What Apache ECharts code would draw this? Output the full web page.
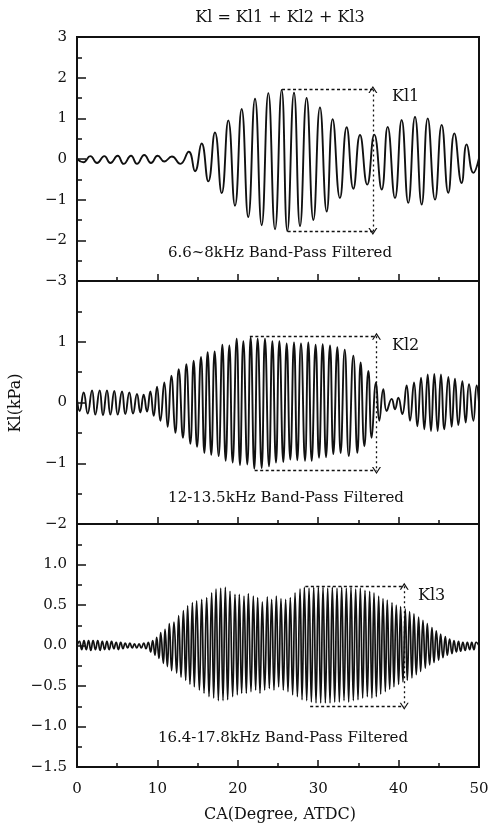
<!DOCTYPE html>
<html>
<head>
<meta charset="utf-8">
<script src="https://cdn.jsdelivr.net/npm/echarts@6/dist/echarts.min.js"></script>
<style>
html,body{margin:0;padding:0;background:#fff;}
#chart{width:489px;height:829px;}
</style>
</head>
<body>
<div id="chart"></div>
<script>
// ---------- data (x: CA degree ATDC, y: kPa) ----------
const xTicks = [0, 10, 20, 30, 40, 50];

// Kl1 : 6.6~8 kHz band (peaks / troughs)
const kl1Deg = [0, 0.8, 1.66, 2.49, 3.4, 4.15, 5.06, 5.8, 6.72, 7.46,
  8.37, 9.2, 10.03, 10.86, 11.8, 12.85, 13.9, 14.68, 15.5, 16.33,
  17.16, 18.0, 18.82, 19.65, 20.48, 21.3, 22.14, 22.97, 23.8, 24.63,
  25.46, 26.16, 26.99, 27.74, 28.56, 29.4, 30.22, 31.06, 31.8, 32.7,
  33.54, 34.37, 35.2, 36.1, 36.98, 37.9, 38.64, 39.55, 40.38, 41.2,
  42.04, 42.87, 43.62, 44.53, 45.36, 46.18, 46.93, 47.84, 48.47, 49.3, 50];
const kl1Val = [0, -0.08, 0.07, -0.1, 0.07, -0.1, 0.08, -0.12, 0.08, -0.12,
  0.1, -0.1, 0.08, -0.06, 0.06, -0.12, 0.18, -0.3, 0.38, -0.55,
  0.65, -0.84, 0.95, -1.15, 1.23, -1.43, 1.48, -1.63, 1.62, -1.73,
  1.7, -1.77, 1.63, -1.65, 1.5, -1.5, 1.27, -1.29, 0.98, -0.96,
  0.78, -0.73, 0.59, -0.63, 0.6, -0.75, 0.79, -0.96, 0.96, -1.08,
  1.04, -1.12, 1.0, -1.0, 0.84, -0.83, 0.63, -0.59, 0.36, -0.34, 0.02];

// Kl2 : 12-13.5 kHz band
const kl2Deg = [0, 0.33, 0.83, 1.33, 1.87, 2.28, 2.82, 3.23, 3.73, 4.15,
  4.64, 5.06, 5.6, 6.01, 6.51, 6.97, 7.46, 7.88, 8.29, 8.71,
  9.12, 9.54, 9.95, 10.37, 10.86, 11.28, 11.73, 12.23, 12.65, 13.18,
  13.6, 14.1, 14.51, 14.93, 15.42, 15.84, 16.25, 16.7, 17.12, 17.62,
  18.08, 18.49, 18.95, 19.36, 19.86, 20.27, 20.69, 21.18, 21.6, 22.05,
  22.47, 22.97, 23.38, 23.88, 24.3, 24.75, 25.17, 25.66, 26.08, 26.53,
  26.99, 27.4, 27.86, 28.36, 28.77, 29.19, 29.68, 30.1, 30.56, 30.97,
  31.47, 31.88, 32.38, 32.79, 33.3, 33.8, 34.37, 34.87, 35.28, 35.74,
  36.24, 36.65, 37.19, 37.6, 38.1, 38.51, 39.14, 39.55, 39.97, 40.46,
  41.0, 41.42, 41.92, 42.33, 42.79, 43.2, 43.62, 44.03, 44.44, 44.86,
  45.27, 45.69, 46.19, 46.6, 47.01, 47.43, 47.93, 48.34, 48.76, 49.3,
  49.71, 50];
const kl2Val = [0.05, -0.14, 0.165, -0.18, 0.2, -0.2, 0.2, -0.21, 0.2, -0.2,
  0.19, -0.2, 0.18, -0.19, 0.165, -0.18, 0.14, -0.165, 0.13, -0.15,
  0.18, -0.22, 0.26, -0.3, 0.33, -0.4, 0.44, -0.5, 0.55, -0.58,
  0.63, -0.68, 0.69, -0.73, 0.75, -0.83, 0.83, -0.86, 0.84, -0.88,
  0.95, -0.96, 0.94, -0.99, 1.05, -1.03, 1.01, -1.02, 1.07, -1.09,
  1.05, -1.08, 1.05, -1.05, 1.01, -0.99, 1.01, -0.98, 0.97, -0.94,
  0.99, -0.95, 0.97, -0.96, 0.99, -0.96, 0.95, -0.91, 0.96, -0.9,
  0.94, -0.85, 0.91, -0.83, 0.87, -0.88, 0.77, -0.83, 0.66, -0.72,
  0.52, -0.58, 0.33, -0.3, 0.22, -0.14, 0.06, -0.11, 0.08, -0.19,
  0.28, -0.3, 0.33, -0.39, 0.41, -0.44, 0.46, -0.47, 0.47, -0.47,
  0.46, -0.44, 0.42, -0.4, 0.39, -0.37, 0.35, -0.33, 0.3, -0.3,
  0.28, 0.0];

// Kl3 : 16.4-17.8 kHz band
const kl3Deg = [0, 0.3, 0.58, 0.87, 1.15, 1.44, 1.72, 2.0, 2.3, 2.58,
  2.87, 3.15, 3.44, 3.72, 4.0, 4.3, 4.58, 4.87, 5.15, 5.44,
  5.72, 6.0, 6.3, 6.58, 6.87, 7.15, 7.44, 7.72, 8.0, 8.3,
  8.58, 8.87, 9.16, 9.41, 9.7, 9.91, 10.2, 10.41, 10.74, 10.95,
  11.24, 11.48, 11.77, 12.06, 12.4, 12.64, 12.94, 13.23, 13.52, 13.76,
  14.05, 14.35, 14.59, 14.88, 15.22, 15.51, 15.8, 16.13, 16.42, 16.75,
  17.0, 17.29, 17.58, 17.87, 18.16, 18.45, 18.74, 19.03, 19.36, 19.65,
  19.94, 20.19, 20.48, 20.77, 21.06, 21.31, 21.64, 21.93, 22.22, 22.47,
  22.76, 23.05, 23.34, 23.67, 23.92, 24.21, 24.5, 24.79, 25.08, 25.37,
  25.66, 25.95, 26.24, 26.53, 26.82, 27.12, 27.41, 27.74, 27.99, 28.28,
  28.57, 28.86, 29.15, 29.44, 29.73, 30.02, 30.31, 30.6, 30.89, 31.18,
  31.47, 31.76, 32.05, 32.34, 32.63, 32.92, 33.21, 33.5, 33.79, 34.08,
  34.37, 34.66, 34.95, 35.24, 35.53, 35.82, 36.11, 36.4, 36.68, 36.94,
  37.23, 37.52, 37.77, 38.06, 38.35, 38.59, 38.89, 39.18, 39.42, 39.71,
  40.0, 40.25, 40.54, 40.83, 41.08, 41.37, 41.66, 41.91, 42.2, 42.49,
  42.74, 43.03, 43.32, 43.57, 43.86, 44.15, 44.4, 44.69, 44.98, 45.23,
  45.52, 45.81, 46.06, 46.35, 46.64, 46.89, 47.18, 47.45, 47.72, 48.0,
  48.28, 48.55, 48.84, 49.1, 49.37, 49.65, 50];
const kl3Val = [0, 0.05, -0.05, 0.06, -0.05, 0.06, -0.06, 0.06, -0.05, 0.06,
  -0.06, 0.05, -0.05, 0.05, -0.05, 0.05, -0.04, 0.04, -0.05, 0.04,
  -0.04, 0.03, -0.03, 0.03, -0.03, 0.02, -0.03, 0.02, -0.03, 0.03,
  -0.04, 0.04, -0.08, 0.06, -0.12, 0.1, -0.16, 0.16, -0.22, 0.2,
  -0.26, 0.27, -0.31, 0.29, -0.34, 0.37, -0.39, 0.43, -0.43, 0.49,
  -0.48, 0.53, -0.51, 0.55, -0.55, 0.57, -0.59, 0.59, -0.63, 0.65,
  -0.65, 0.7, -0.68, 0.71, -0.68, 0.72, -0.67, 0.67, -0.63, 0.63,
  -0.61, 0.63, -0.59, 0.61, -0.59, 0.64, -0.57, 0.61, -0.55, 0.59,
  -0.59, 0.54, -0.55, 0.6, -0.53, 0.57, -0.55, 0.61, -0.51, 0.58,
  -0.55, 0.57, -0.57, 0.59, -0.61, 0.65, -0.63, 0.7, -0.67, 0.72,
  -0.68, 0.71, -0.7, 0.72, -0.71, 0.72, -0.71, 0.72, -0.71, 0.71,
  -0.71, 0.72, -0.7, 0.71, -0.7, 0.72, -0.68, 0.71, -0.7, 0.72,
  -0.68, 0.7, -0.67, 0.71, -0.65, 0.68, -0.63, 0.67, -0.65, 0.65,
  -0.63, 0.61, -0.6, 0.58, -0.57, 0.56, -0.54, 0.53, -0.51, 0.5,
  -0.48, 0.48, -0.45, 0.45, -0.43, 0.42, -0.4, 0.39, -0.36, 0.35,
  -0.32, 0.31, -0.28, 0.27, -0.24, 0.22, -0.21, 0.18, -0.18, 0.14,
  -0.15, 0.11, -0.12, 0.08, -0.1, 0.06, -0.08, 0.05, -0.07, 0.04,
  -0.06, 0.04, -0.05, 0.04, -0.05, 0.04, 0];

// peak-to-peak markers: [top line start, bottom line start, arrow x, top value, bottom value]
const kl1Marker = [25.5, 26.2, 36.8, 1.71, -1.78];
const kl2Marker = [21.5, 22.1, 37.25, 1.09, -1.12];
const kl3Marker = [28.4, 29.0, 40.7, 0.73, -0.75];

// y axis ranges per panel: [min, max, interval]
const yRange1 = [-3, 3, 1];
const yRange2 = [-2, 2, 1];
const yRange3 = [-1.5, 1.5, 0.5];

// texts
const titleText = 'Kl = Kl1 + Kl2 + Kl3';
const yName = 'Kl(kPa)';
const xName = 'CA(Degree, ATDC)';
const bandTexts = ['6.6~8kHz Band-Pass Filtered', '12-13.5kHz Band-Pass Filtered', '16.4-17.8kHz Band-Pass Filtered'];
const markerNames = ['Kl1', 'Kl2', 'Kl3'];

// ---------- chart ----------
const FONT = 'DejaVu Serif';
const INK = '#111';
const chart = echarts.init(document.getElementById('chart'), null, {renderer: 'canvas'});

const zip = (xs, ys) => xs.map((x, i) => [x, ys[i]]);
const minus = s => s.replace('-', '\u2212');

const grids = [
  {left: 77, top: 37, width: 402, height: 244},
  {left: 77, top: 281, width: 402, height: 243},
  {left: 77, top: 524, width: 402, height: 243}
].map(g => Object.assign(g, {show: true, borderColor: INK, borderWidth: 2, backgroundColor: 'transparent',
  containLabel: false, outerBoundsMode: 'none'}));

const xAxes = [0, 1, 2].map(i => ({
  gridIndex: i, type: 'value', position: 'bottom',
  min: xTicks[0], max: xTicks[xTicks.length - 1], interval: xTicks[1] - xTicks[0],
  axisLine: {show: true, onZero: false, lineStyle: {color: INK, width: 2}},
  axisTick: {show: true, inside: true, length: 7, lineStyle: {color: INK, width: 1.5}},
  minorTick: {show: true, splitNumber: 2, length: 4, lineStyle: {color: INK, width: 1.5}},
  splitLine: {show: false},
  axisLabel: {show: i === 2, color: INK, fontFamily: FONT, fontSize: 15, margin: 15}
}));

function yAxis(i, r, fmt, hideMax) {
  return {
    gridIndex: i, type: 'value', position: 'left', min: r[0], max: r[1], interval: r[2],
    axisLine: {show: true, onZero: false, lineStyle: {color: INK, width: 2}},
    axisTick: {show: true, inside: true, length: 9, lineStyle: {color: INK, width: 1.5}},
    minorTick: {show: true, splitNumber: 2, length: 5, lineStyle: {color: INK, width: 1.5}},
    splitLine: {show: false},
    axisLabel: {
      color: INK, fontFamily: FONT, fontSize: 15, margin: 10,
      formatter: v => (hideMax && Math.abs(v - r[1]) < 1e-9) ? '' : minus(fmt(v))
    }
  };
}
const yAxes = [
  yAxis(0, yRange1, v => String(v), false),
  yAxis(1, yRange2, v => String(v), true),
  yAxis(2, yRange3, v => v.toFixed(1), true)
];

const chevron = 'path://M0,10 L6,0 L12,10 L10.2,10 L6,3 L1.8,10 Z';
function markerLines(m) {
  const [topFrom, botFrom, ax, hi, lo] = m;
  return {
    silent: true, animation: false, symbol: ['none', 'none'], label: {show: false},
    lineStyle: {color: INK, width: 1.3, type: [3, 2.5]},
    emphasis: {disabled: true},
    data: [
      [{coord: [topFrom, hi]}, {coord: [ax, hi]}],
      [{coord: [botFrom, lo]}, {coord: [ax, lo]}],
      [{coord: [ax, hi], symbol: chevron, symbolSize: [9, 7]},
       {coord: [ax, lo], symbol: chevron, symbolSize: [9, 7], lineStyle: {type: [2, 3]}}]
    ]
  };
}

function signal(i, xs, ys, m, width, smooth) {
  return {
    type: 'line', xAxisIndex: i, yAxisIndex: i, data: zip(xs, ys),
    showSymbol: false, symbol: 'none', smooth: smooth, animation: false, silent: true,
    clip: false,
    lineStyle: {color: INK, width: width},
    markLine: markerLines(m)
  };
}

const txt = (x, y, text, size, align, extra) => Object.assign({
  type: 'text', x: x, y: y, silent: true,
  style: {text: text, fill: INK, font: size + 'px "' + FONT + '"', textAlign: align, textVerticalAlign: 'middle'}
}, extra || {});

const option = {
  animation: false,
  backgroundColor: '#fff',
  grid: grids,
  xAxis: xAxes,
  yAxis: yAxes,
  series: [
    signal(0, kl1Deg, kl1Val, kl1Marker, 1.9, 0.5),
    signal(1, kl2Deg, kl2Val, kl2Marker, 1.9, 0.5),
    signal(2, kl3Deg, kl3Val, kl3Marker, 1.7, 0.5)
  ],
  graphic: [
    txt(280, 18, titleText, 16, 'center'),
    txt(16, 403, yName, 16, 'center', {rotation: Math.PI / 2}),
    txt(280, 815, xName, 16, 'center'),
    txt(280, 253, bandTexts[0], 15, 'center'),
    txt(286, 498, bandTexts[1], 15, 'center'),
    txt(283, 738, bandTexts[2], 15, 'center'),
    txt(392, 97, markerNames[0], 16, 'left'),
    txt(392, 346, markerNames[1], 16, 'left'),
    txt(418, 596, markerNames[2], 16, 'left')
  ]
};
chart.setOption(option);
</script>
</body>
</html>
